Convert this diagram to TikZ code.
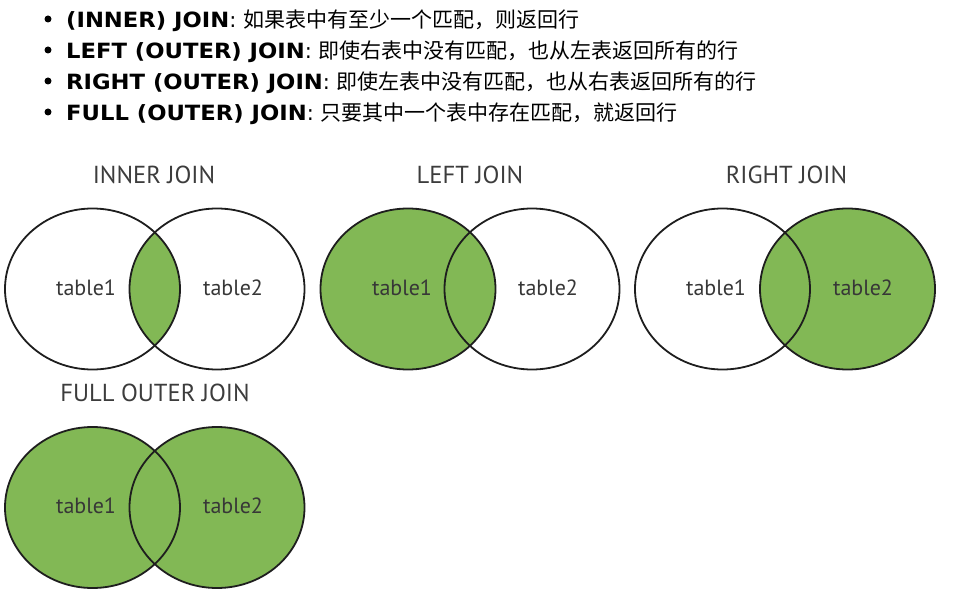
\documentclass[tikz,border=0pt]{standalone}
\usepackage{fontspec}
\setmainfont{DejaVu Sans}
\newfontfamily\cjk{Noto Sans CJK SC}
\newfontfamily\vennfont{PT Sans}
\newfontfamily\boldfont[FakeStretch=1.08]{DejaVu Sans}
\definecolor{vgreen}{RGB}{130,184,85}
\definecolor{ringcol}{RGB}{30,30,30}
\definecolor{titlegray}{RGB}{60,60,60}
\definecolor{labelgray}{RGB}{55,55,55}
\begin{document}
\begin{tikzpicture}[x=1pt,y=-1pt,
  bul/.style={circle,fill=black,inner sep=0pt,minimum size=7pt},
  bline/.style={anchor=base west,inner sep=0pt,font=\fontsize{21}{25}\selectfont},
  ttl/.style={anchor=base,inner sep=0pt,text=titlegray,font=\vennfont\fontsize{24.6}{28}\selectfont},
  lbl/.style={anchor=base,inner sep=0pt,text=labelgray,font=\vennfont\fontsize{22}{26}\selectfont},
  ring/.style={draw=ringcol,line width=1.8pt},
  ell/.style={x radius=87.5pt,y radius=80.5pt}]
\useasboundingbox (0,0) rectangle (953,596);

% bullet list
\node[bul] (b1) at (48,19) {};
\node[bul] (b2) at (48,50) {};
\node[bul] (b3) at (48,81) {};
\node[bul] (b4) at (48,112) {};
\node[bline] (l1) at (66,27.5) {{\boldfont\bfseries (INNER) JOIN}: {\cjk 如果表中有至少一个匹配，则返回行}};
\node[bline] (l2) at (66,58.5) {{\boldfont\bfseries LEFT (OUTER) JOIN}: {\cjk 即使右表中没有匹配，也从左表返回所有的行}};
\node[bline] (l3) at (66,89.5) {{\boldfont\bfseries RIGHT (OUTER) JOIN}: {\cjk 即使左表中没有匹配，也从右表返回所有的行}};
\node[bline] (l4) at (66,120.5) {{\boldfont\bfseries FULL (OUTER) JOIN}: {\cjk 只要其中一个表中存在匹配，就返回行}};

% INNER JOIN
\begin{scope}
  \clip (92.5,289) ellipse [ell];
  \fill[vgreen] (217,289) ellipse [ell];
\end{scope}
\draw[ring] (92.5,289) ellipse [ell];
\draw[ring] (217,289) ellipse [ell];
\node[ttl] (t1) at (154,183.3) {INNER JOIN};
\node[lbl] (a1) at (86,295) {table1};
\node[lbl] (a2) at (233,295) {table2};

% LEFT JOIN
\fill[vgreen] (408,289) ellipse [ell];
\draw[ring] (408,289) ellipse [ell];
\draw[ring] (532,289) ellipse [ell];
\node[ttl] (t2) at (470,183.3) {LEFT JOIN};
\node[lbl] (c1) at (402,295) {table1};
\node[lbl] (c2) at (548,295) {table2};

% RIGHT JOIN
\fill[vgreen] (847.5,289) ellipse [ell];
\draw[ring] (722.5,289) ellipse [ell];
\draw[ring] (847.5,289) ellipse [ell];
\node[ttl] (t3) at (786.5,183.3) {RIGHT JOIN};
\node[lbl] (d1) at (716,295) {table1};
\node[lbl] (d2) at (863,295) {table2};

% FULL OUTER JOIN
\fill[vgreen] (92.5,507.5) ellipse [ell];
\fill[vgreen] (217,507.5) ellipse [ell];
\draw[ring] (92.5,507.5) ellipse [ell];
\draw[ring] (217,507.5) ellipse [ell];
\node[ttl] (t4) at (155,401.7) {FULL OUTER JOIN};
\node[lbl] (e1) at (86,513.5) {table1};
\node[lbl] (e2) at (233,513.5) {table2};
\end{tikzpicture}
\end{document}
